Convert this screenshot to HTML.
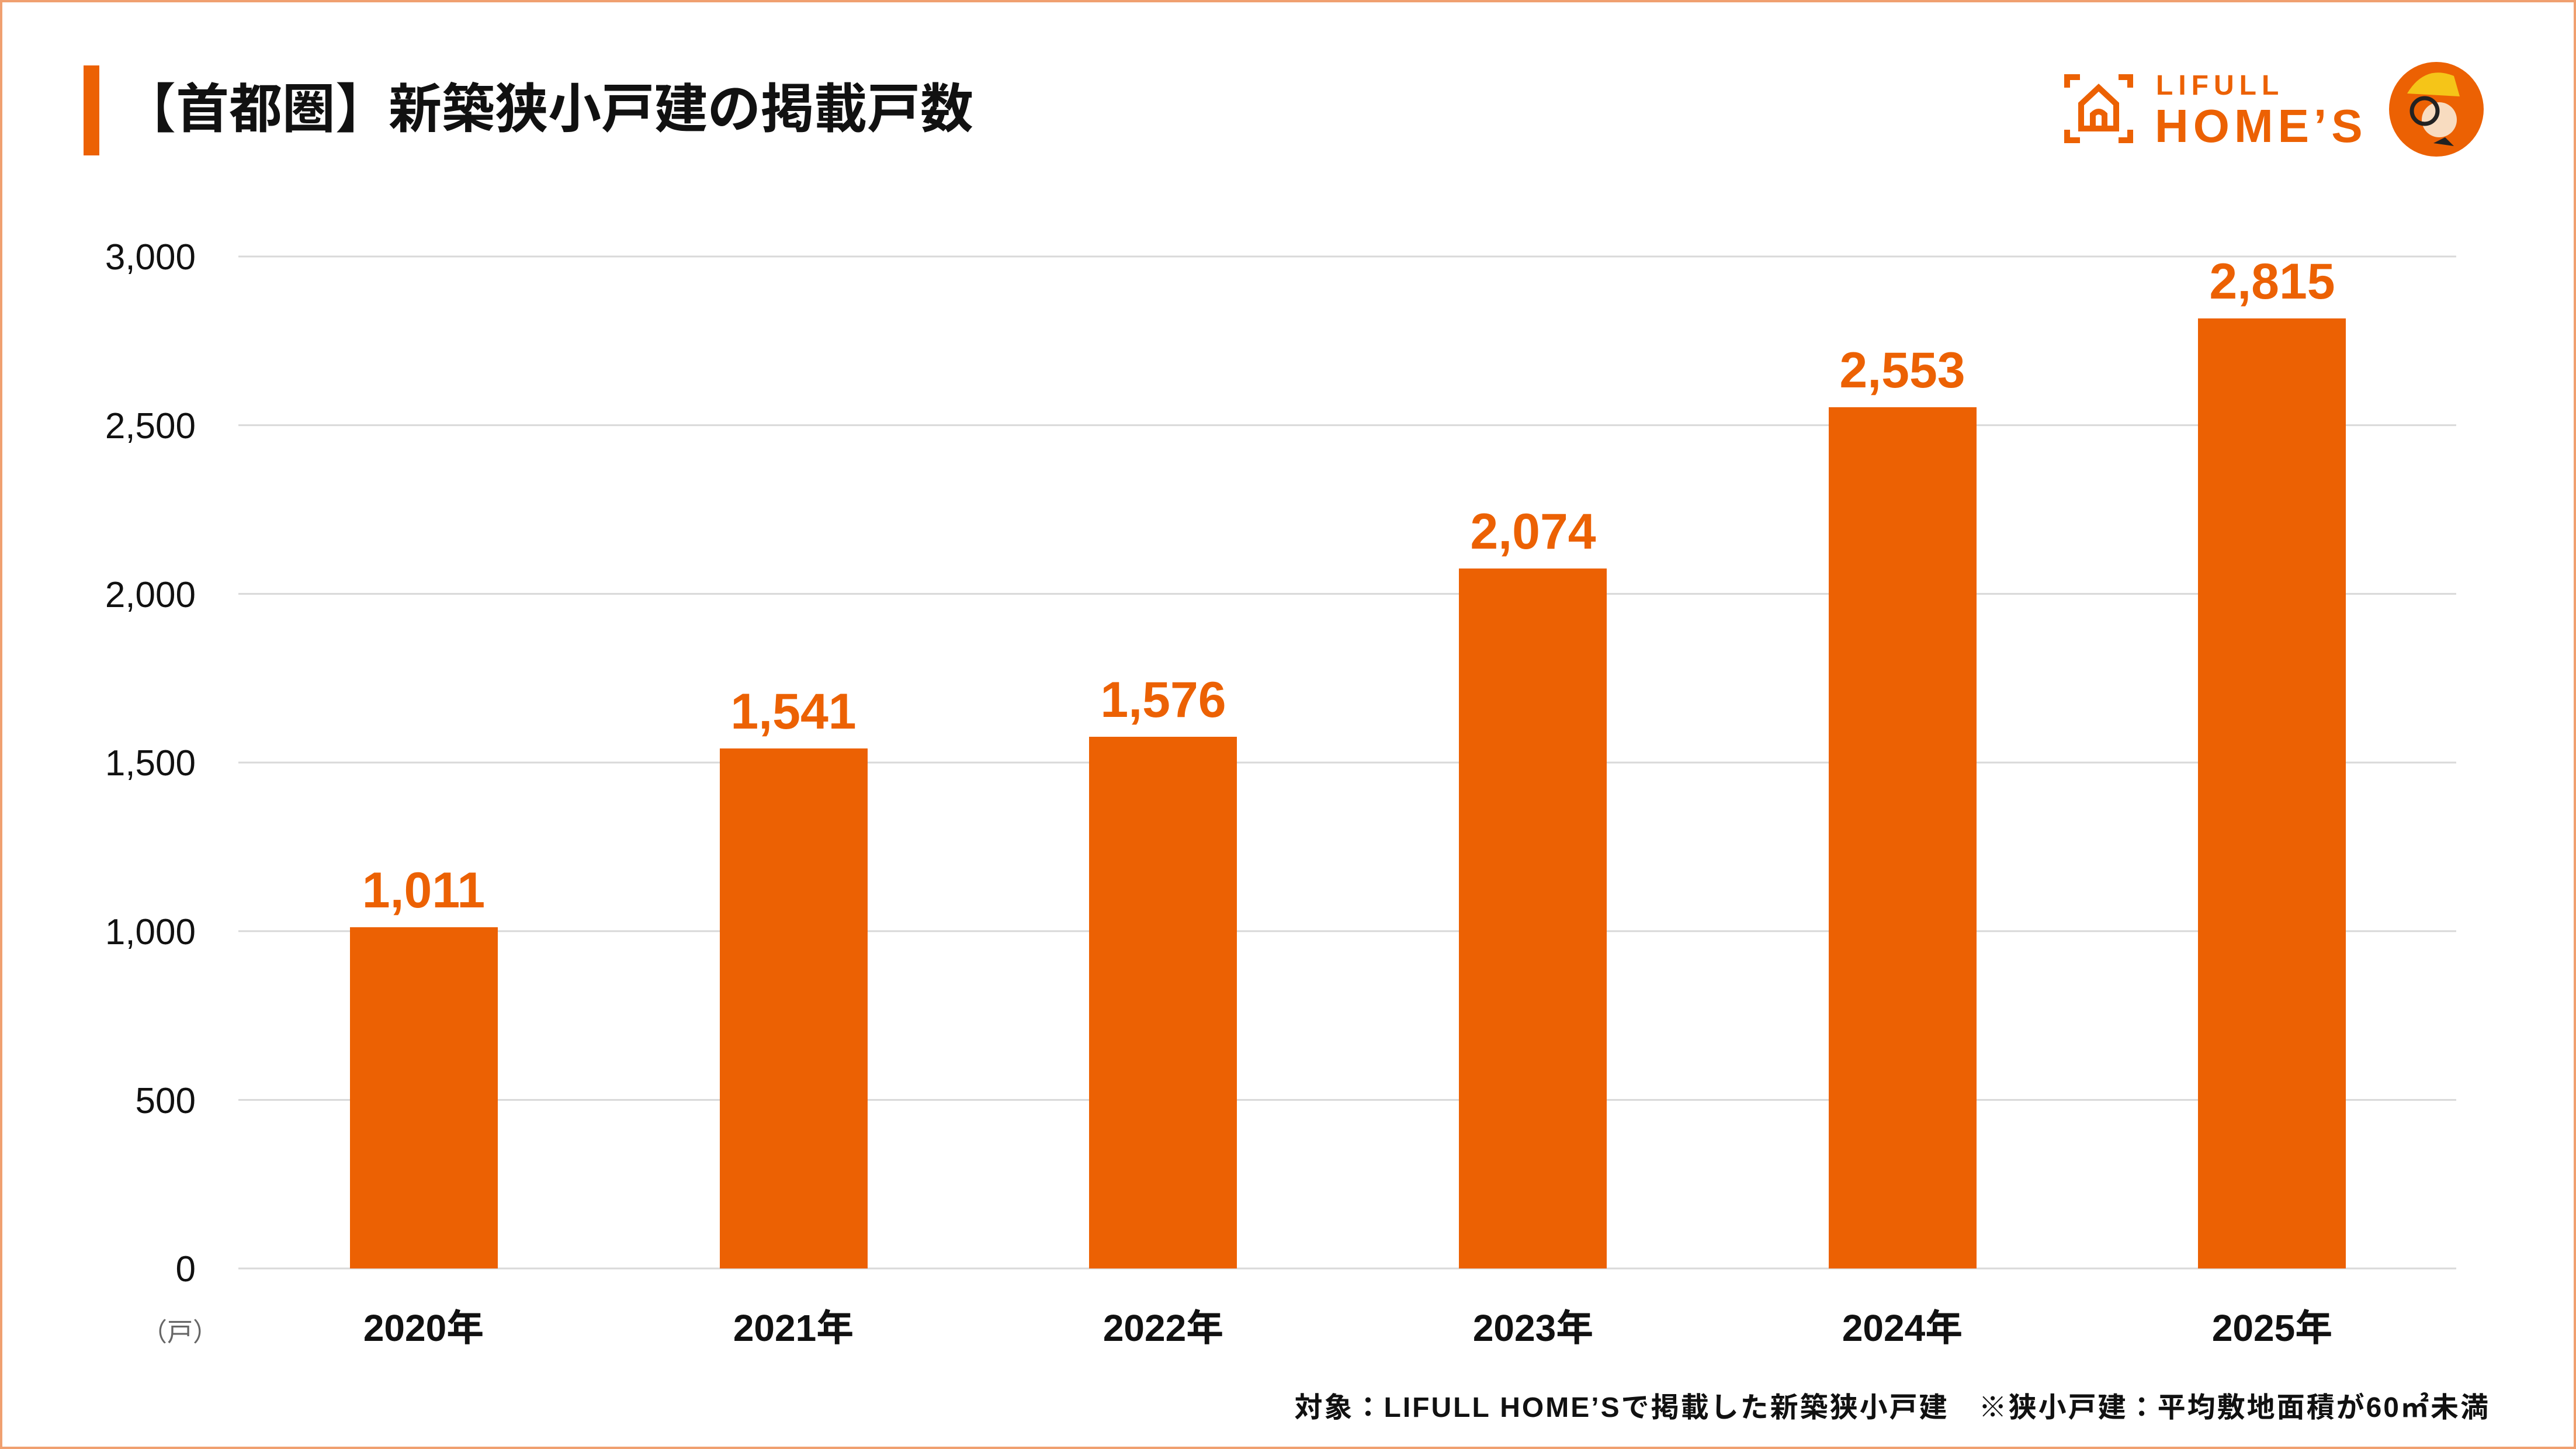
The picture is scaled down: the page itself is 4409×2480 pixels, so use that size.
<!DOCTYPE html>
<html><head><meta charset="utf-8"><style>
html,body{margin:0;padding:0;background:#fff}
svg{display:block}
text{font-family:"Liberation Sans","Noto Sans CJK JP",sans-serif}
</style></head><body>
<svg width="4409" height="2480" viewBox="0 0 4409 2480" xmlns="http://www.w3.org/2000/svg">
<rect x="2" y="2" width="4405" height="2476" fill="#fff" stroke="#F0A070" stroke-width="4"/>
<rect x="143" y="112" width="27" height="154" fill="#EC6103"/>
<text x="210" y="218" font-size="91" font-weight="bold" fill="#111" font-family="Noto Sans CJK JP, sans-serif">【首都圏】新築狭小戸建の掲載戸数</text>
<!-- logo -->
<g fill="none" stroke="#EC6103" stroke-width="10">
<path d="M3538 150 V132 H3560 M3626 132 H3646 V150 M3538 222 V240 H3560 M3626 240 H3646 V222"/>
<path d="M3562 220 V178 L3592 150 L3622 178 V220 Z"/>
<path d="M3582 220 V196 Q3592 186 3602 196 V220"/>
</g>
<text x="3690" y="162" font-size="48" font-weight="bold" fill="#EC6103" letter-spacing="9">LIFULL</text>
<text x="3688" y="243" font-size="80" font-weight="bold" fill="#EC6103" letter-spacing="8">HOME’S</text>
<ellipse cx="4170" cy="187" rx="81" ry="81" fill="#EC6103"/>
<path d="M4120 160 Q4150 110 4200 130 L4210 165 Z" fill="#F5C518"/>
<circle cx="4175" cy="205" r="30" fill="#F8DCC0"/>
<circle cx="4150" cy="190" r="22" fill="none" stroke="#222" stroke-width="7"/>
<path d="M4165 245 L4185 235 L4200 250 Z" fill="#222"/>
<!-- grid -->
<g stroke="#D9D9D9" stroke-width="3">
<line x1="408" y1="439" x2="4204" y2="439"/>
<line x1="408" y1="727.7" x2="4204" y2="727.7"/>
<line x1="408" y1="1016.4" x2="4204" y2="1016.4"/>
<line x1="408" y1="1305.1" x2="4204" y2="1305.1"/>
<line x1="408" y1="1593.8" x2="4204" y2="1593.8"/>
<line x1="408" y1="1882.5" x2="4204" y2="1882.5"/>
<line x1="408" y1="2171" x2="4204" y2="2171"/>
</g>
<g font-size="62" fill="#111" text-anchor="end">
<text x="335" y="461">3,000</text>
<text x="335" y="750">2,500</text>
<text x="335" y="1039">2,000</text>
<text x="335" y="1327">1,500</text>
<text x="335" y="1616">1,000</text>
<text x="335" y="1905">500</text>
<text x="335" y="2193">0</text>
</g>
<text x="308" y="2295" font-size="44" fill="#666" text-anchor="middle" font-family="Noto Sans CJK JP, sans-serif">（戸）</text>
<g fill="#EC6103">
<rect x="599" y="1587" width="253" height="584"/>
<rect x="1232" y="1281" width="253" height="890"/>
<rect x="1864" y="1261" width="253" height="910"/>
<rect x="2497" y="973" width="253" height="1198"/>
<rect x="3130" y="697" width="253" height="1474"/>
<rect x="3762" y="545" width="253" height="1626"/>
</g>
<g font-size="86" font-weight="bold" fill="#EC6103" text-anchor="middle">
<text x="725" y="1553">1,011</text>
<text x="1358" y="1247">1,541</text>
<text x="1991" y="1227">1,576</text>
<text x="2624" y="939">2,074</text>
<text x="3256" y="663">2,553</text>
<text x="3889" y="511">2,815</text>
</g>
<g font-size="64" font-weight="bold" fill="#111" text-anchor="middle" font-family="Liberation Sans, Noto Sans CJK JP, sans-serif">
<text x="725" y="2295">2020年</text>
<text x="1358" y="2295">2021年</text>
<text x="1991" y="2295">2022年</text>
<text x="2624" y="2295">2023年</text>
<text x="3256" y="2295">2024年</text>
<text x="3889" y="2295">2025年</text>
</g>
<text x="4262" y="2425" font-size="48" font-weight="bold" fill="#111" text-anchor="end" letter-spacing="3" font-family="Liberation Sans, Noto Sans CJK JP, sans-serif">対象：LIFULL HOME’Sで掲載した新築狭小戸建　※狭小戸建：平均敷地面積が60㎡未満</text>
</svg>
</body></html>
